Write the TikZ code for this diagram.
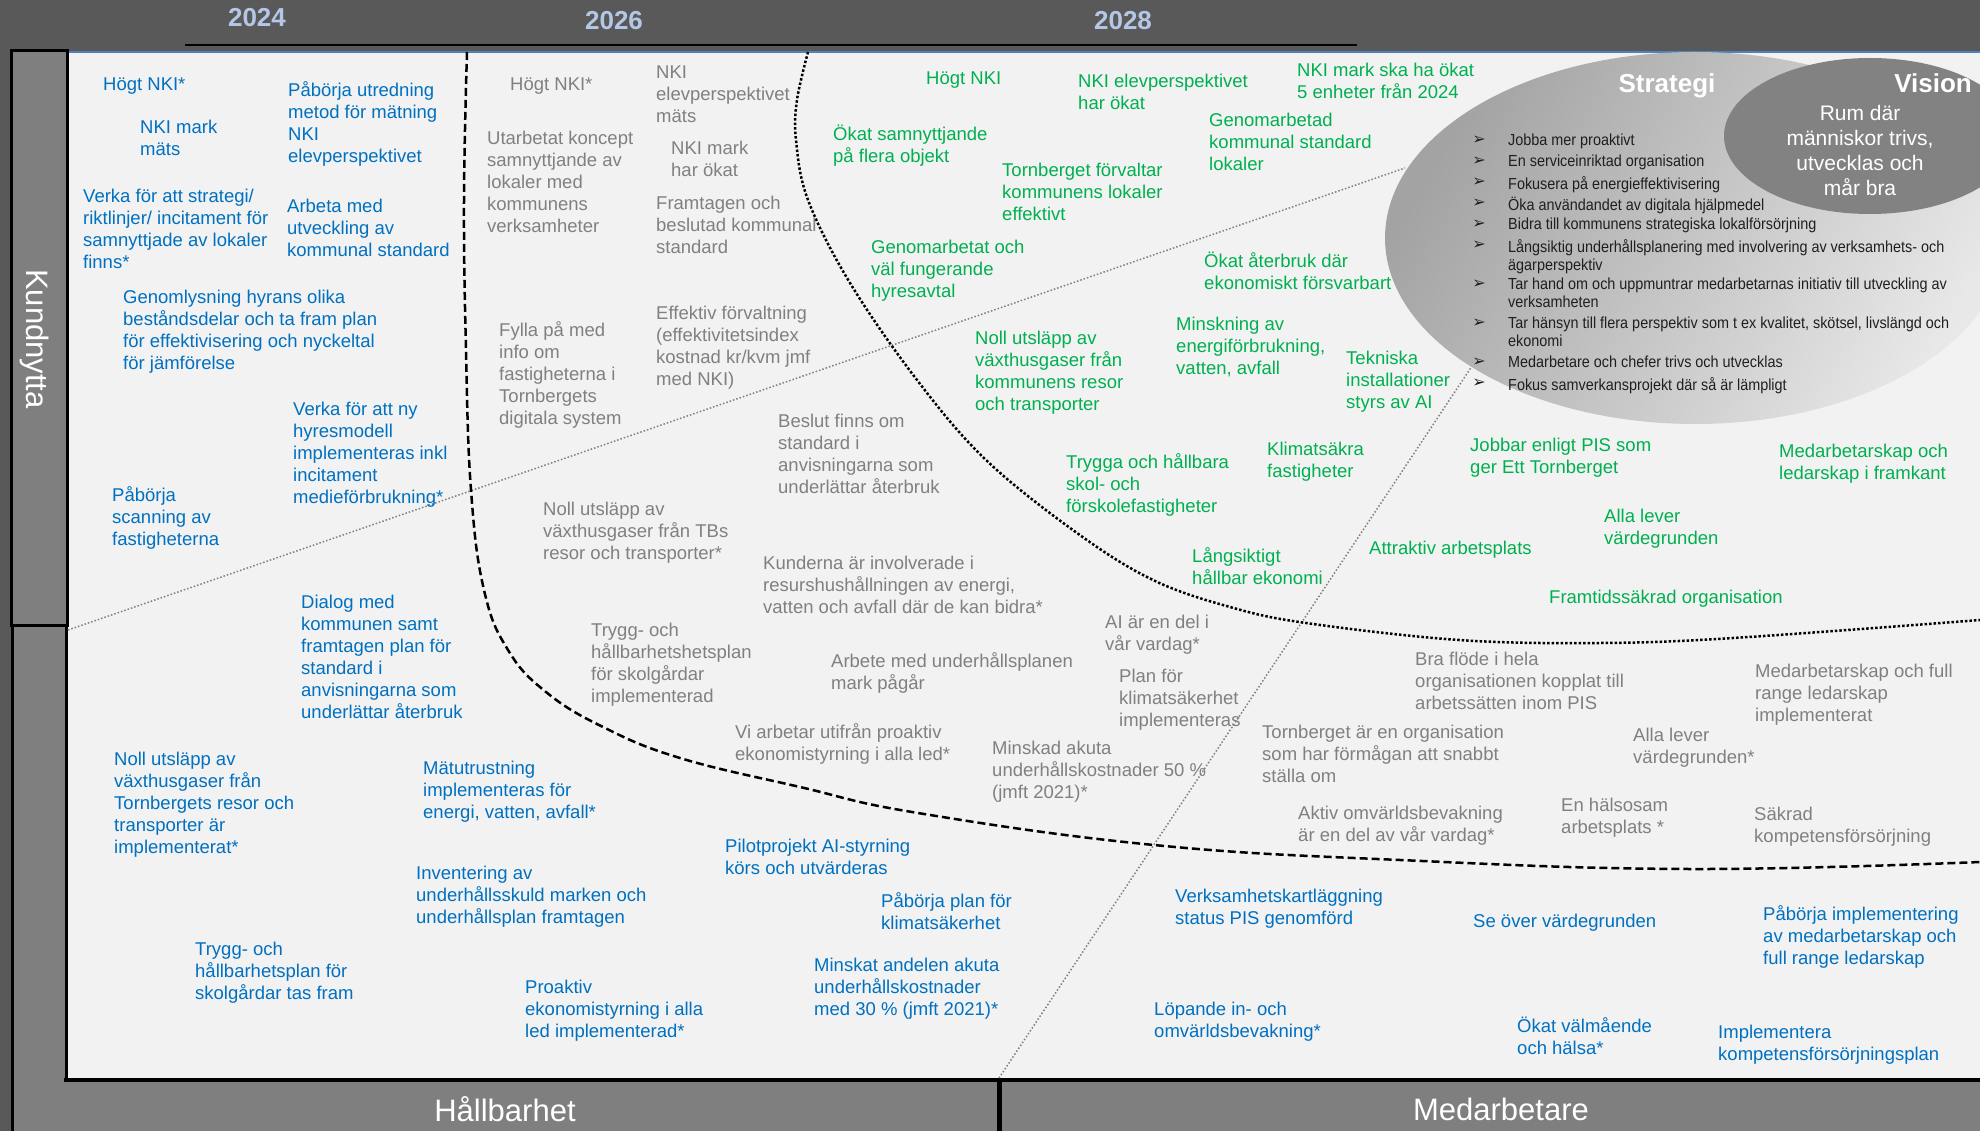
\documentclass[tikz,border=0pt]{standalone}
\usepackage{fontspec}
\setmainfont{Liberation Sans}
\newfontfamily\narrowfont[FakeStretch=0.9]{Liberation Sans}
\newfontfamily\dejavu{DejaVu Sans}
\usepackage{tikz}

\definecolor{bgdark}{HTML}{595959}
\definecolor{bargray}{HTML}{7F7F7F}
\definecolor{panelgray}{HTML}{F2F2F2}
\definecolor{rulerblue}{HTML}{4F81BD}
\definecolor{yearblue}{HTML}{B4C7E7}
\definecolor{tbblue}{HTML}{0070C0}
\definecolor{tbgray}{HTML}{808080}
\definecolor{tbgreen}{HTML}{00B050}
\definecolor{stratdark}{HTML}{A3A3A3}
\definecolor{stratlight}{HTML}{E8E8E8}
\definecolor{visiongray}{HTML}{828282}
\definecolor{stratink}{HTML}{1F1F1F}

\begin{document}
\begin{tikzpicture}[x=1pt, y=-1pt,
    entry/.style={anchor=north west, yshift=7pt, inner sep=0pt, align=left,
      font=\fontsize{18.5}{22}\selectfont},
    nearterm/.style={entry, text=tbblue},
    midterm/.style={entry, text=tbgray},
    longterm/.style={entry, text=tbgreen},
    strat/.style={anchor=north west, yshift=6pt, inner sep=0pt, align=left,
      text=stratink, font=\narrowfont\fontsize{16}{18}\selectfont},
    arrowmark/.style={inner sep=0pt, text=stratink, font=\dejavu\fontsize{16}{18}\selectfont},
    yearlabel/.style={text=yearblue, font=\bfseries\fontsize{26}{30}\selectfont},
    axislabel/.style={text=white, inner sep=0pt, font=\fontsize{31}{36}\selectfont},
    griddot/.style={tbgray, line width=1.5pt, dotted}]
    \useasboundingbox (0,0) rectangle (1980,1131);

    % Backdrop and working area
    \fill[bgdark] (0,0) rectangle (1980,1131);
    \fill[panelgray] (68,52) rectangle (1980,1080);
    \draw[rulerblue, line width=2pt] (68,52) -- (1980,52);
    \draw[line width=2pt] (185,45) -- (1357,45);

    % Side bar and bottom bars
    \fill[bargray] (12,625) rectangle (67,1131);
    \fill[bargray] (67,1080) rectangle (1980,1131);
    \draw[line width=3pt] (12,625) -- (12,1131);
    \draw[line width=3pt] (66,625) -- (66,1080);
    \draw[line width=4pt] (64,1080) -- (1980,1080);
    \draw[line width=5pt] (999,1080) -- (999,1131);
    \filldraw[fill=bargray, line width=3pt] (11,51) rectangle (67,625);

    % Years
    \node[yearlabel] (y24) at (257,18) {2024};
    \node[yearlabel] (y26) at (614,21) {2026};
    \node[yearlabel] (y28) at (1123,21) {2028};

    % Axis names
    \node[axislabel, rotate=-90] (kund) at (35,339) {Kundnytta};
    \node[axislabel, anchor=base] (hall) at (505,1121) {Hållbarhet};
    \node[axislabel, anchor=base] (medarb) at (1501,1120) {Medarbetare};

    % Perspective borders
    \draw[griddot] (68,630) -- (1405,168);
    \draw[griddot] (999,1078) -- (1478,357);

    % Time horizons
    \draw[line width=2.5pt, dash pattern=on 8pt off 4pt] plot[smooth, tension=0.7] coordinates
      {(467,52) (464,200) (466,350) (471,490) (484,590) (508,650) (546,692) (603,727) (680,758)
       (800,787) (918,813) (1154,845) (1400,860) (1690,869) (1980,862)};
    \draw[line width=2.5pt, dotted] plot[smooth, tension=0.6] coordinates
      {(808,52) (797,100) (796,140) (808,200) (850,283) (917,380) (986,460) (1077,533)
       (1153,580) (1230,607) (1306,623) (1459,640) (1600,643) (1733,638) (1980,620)};

    % Strategy and vision
    \shade[left color=stratdark, right color=stratlight, shading angle=60]
      (1695,238) ellipse [x radius=310pt, y radius=186pt];
    \fill[visiongray] (1870,136) ellipse [x radius=146pt, y radius=78pt];
    \node[text=white, anchor=base, font=\bfseries\fontsize{26}{30}\selectfont] (strategi) at (1667,93) {Strategi};
    \node[text=white, anchor=base, font=\bfseries\fontsize{26}{30}\selectfont] (vision) at (1933,93) {Vision};
    \node[text=white, anchor=north, inner sep=0pt, align=center, font=\fontsize{21}{25}\selectfont]
      (visiontext) at (1860,105) {Rum där\\människor trivs,\\utvecklas och\\mår bra};

    \foreach \y/\txt [count=\i] in {140/{Jobba mer proaktivt},
        161/{En serviceinriktad organisation},
        182/{Fokusera på energieffektivisering},
        203/{Öka användandet av digitala hjälpmedel},
        224/{Bidra till kommunens strategiska lokalförsörjning},
        245/{Långsiktig underhållsplanering med involvering av verksamhets- och\\ägarperspektiv},
        284/{Tar hand om och uppmuntrar medarbetarnas initiativ till utveckling av\\verksamheten},
        323/{Tar hänsyn till flera perspektiv som t ex kvalitet, skötsel, livslängd och\\ekonomi},
        362/{Medarbetare och chefer trivs och utvecklas},
        383/{Fokus samverkansprojekt där så är lämpligt}} {
      \node[arrowmark] (pil\i) at (1479,\y) {➢};
      \node[strat] (strat\i) at (1508,\y) {\txt};
    }

    % 2024
    \node[nearterm] (n1) at (103,85) {Högt NKI*};
    \node[nearterm] (n2) at (140,127) {NKI mark\\mäts};
    \node[nearterm] (n3) at (288,88) {Påbörja utredning\\metod för mätning\\NKI\\elevperspektivet};
    \node[nearterm] (n4) at (83,196) {Verka för att strategi/\\riktlinjer/ incitament för\\samnyttjade av lokaler\\finns*};
    \node[nearterm] (n5) at (287,206) {Arbeta med\\utveckling av\\kommunal standard};
    \node[nearterm] (n6) at (123,297) {Genomlysning hyrans olika\\beståndsdelar och ta fram plan\\för effektivisering och nyckeltal\\för jämförelse};
    \node[nearterm] (n7) at (293,409) {Verka för att ny\\hyresmodell\\implementeras inkl\\incitament\\medieförbrukning*};
    \node[nearterm] (n8) at (112,493) {Påbörja\\scanning av\\fastigheterna};
    \node[nearterm] (n9) at (301,602) {Dialog med\\kommunen samt\\framtagen plan för\\standard i\\anvisningarna som\\underlättar återbruk};
    \node[nearterm] (n10) at (114,759) {Noll utsläpp av\\växthusgaser från\\Tornbergets resor och\\transporter är\\implementerat*};
    \node[nearterm] (n11) at (423,768) {Mätutrustning\\implementeras för\\energi, vatten, avfall*};
    \node[nearterm] (n12) at (416,873) {Inventering av\\underhållsskuld marken och\\underhållsplan framtagen};
    \node[nearterm] (n13) at (195,949) {Trygg- och\\hållbarhetsplan för\\skolgårdar tas fram};
    \node[nearterm] (n14) at (525,987) {Proaktiv\\ekonomistyrning i alla\\led implementerad*};
    \node[nearterm] (n15) at (725,846) {Pilotprojekt AI-styrning\\körs och utvärderas};
    \node[nearterm] (n16) at (881,899) {Påbörja plan för\\klimatsäkerhet};
    \node[nearterm] (n17) at (814,965) {Minskat andelen akuta\\underhållskostnader\\med 30 \% (jmft 2021)*};
    \node[nearterm] (n18) at (1175,896) {Verksamhetskartläggning\\status PIS genomförd};
    \node[nearterm] (n19) at (1154,1009) {Löpande in- och\\omvärldsbevakning*};
    \node[nearterm] (n20) at (1473,921) {Se över värdegrunden};
    \node[nearterm] (n21) at (1763,912) {Påbörja implementering\\av medarbetarskap och\\full range ledarskap};
    \node[nearterm] (n22) at (1517,1024) {Ökat välmående\\och hälsa*};
    \node[nearterm] (n23) at (1718,1032) {Implementera\\kompetensförsörjningsplan};

    % 2026
    \node[midterm] (m1) at (510,85) {Högt NKI*};
    \node[midterm] (m2) at (656,73) {NKI\\elevperspektivet\\mäts};
    \node[midterm] (m3) at (487,138) {Utarbetat koncept\\samnyttjande av\\lokaler med\\kommunens\\verksamheter};
    \node[midterm] (m4) at (671,148) {NKI mark\\har ökat};
    \node[midterm] (m5) at (656,203) {Framtagen och\\beslutad kommunal\\standard};
    \node[midterm] (m6) at (499,328) {Fylla på med\\info om\\fastigheterna i\\Tornbergets\\digitala system};
    \node[midterm] (m7) at (656,313) {Effektiv förvaltning\\(effektivitetsindex\\kostnad kr/kvm jmf\\med NKI)};
    \node[midterm] (m8) at (778,421) {Beslut finns om\\standard i\\anvisningarna som\\underlättar återbruk};
    \node[midterm] (m9) at (543,509) {Noll utsläpp av\\växthusgaser från TBs\\resor och transporter*};
    \node[midterm] (m10) at (763,563) {Kunderna är involverade i\\resurshushållningen av energi,\\vatten och avfall där de kan bidra*};
    \node[midterm] (m11) at (591,630) {Trygg- och\\hållbarhetshetsplan\\för skolgårdar\\implementerad};
    \node[midterm] (m12) at (831,659) {Arbete med underhållsplanen\\mark pågår};
    \node[midterm] (m13) at (735,730) {Vi arbetar utifrån proaktiv\\ekonomistyrning i alla led*};
    \node[midterm] (m14) at (992,748) {Minskad akuta\\underhållskostnader 50 \%\\(jmft 2021)*};
    \node[midterm] (m15) at (1105,622) {AI är en del i\\vår vardag*};
    \node[midterm] (m16) at (1119,676) {Plan för\\klimatsäkerhet\\implementeras};
    \node[midterm] (m17) at (1415,659) {Bra flöde i hela\\organisationen kopplat till\\arbetssätten inom PIS};
    \node[midterm] (m18) at (1262,732) {Tornberget är en organisation\\som har förmågan att snabbt\\ställa om};
    \node[midterm] (m19) at (1298,813) {Aktiv omvärldsbevakning\\är en del av vår vardag*};
    \node[midterm] (m20) at (1633,735) {Alla lever\\värdegrunden*};
    \node[midterm] (m21) at (1561,805) {En hälsosam\\arbetsplats *};
    \node[midterm] (m22) at (1754,814) {Säkrad\\kompetensförsörjning};
    \node[midterm] (m23) at (1755,671) {Medarbetarskap och full\\range ledarskap\\implementerat};

    % 2028
    \node[longterm] (l1) at (926,79) {Högt NKI};
    \node[longterm] (l2) at (1078,81) {NKI elevperspektivet\\har ökat};
    \node[longterm] (l3) at (1297,70) {NKI mark ska ha ökat\\5 enheter från 2024};
    \node[longterm] (l4) at (833,132) {Ökat samnyttjande\\på flera objekt};
    \node[longterm] (l5) at (1209,120) {Genomarbetad\\kommunal standard\\lokaler};
    \node[longterm] (l6) at (1002,170) {Tornberget förvaltar\\kommunens lokaler\\effektivt};
    \node[longterm] (l7) at (871,247) {Genomarbetat och\\väl fungerande\\hyresavtal};
    \node[longterm] (l8) at (1204,259) {Ökat återbruk där\\ekonomiskt försvarbart};
    \node[longterm] (l9) at (975,338) {Noll utsläpp av\\växthusgaser från\\kommunens resor\\och transporter};
    \node[longterm] (l10) at (1176,324) {Minskning av\\energiförbrukning,\\vatten, avfall};
    \node[longterm] (l11) at (1346,358) {Tekniska\\installationer\\styrs av AI};
    \node[longterm] (l12) at (1066,460) {Trygga och hållbara\\skol- och\\förskolefastigheter};
    \node[longterm] (l13) at (1267,449) {Klimatsäkra\\fastigheter};
    \node[longterm] (l14) at (1192,554) {Långsiktigt\\hållbar ekonomi};
    \node[longterm] (l15) at (1369,548) {Attraktiv arbetsplats};
    \node[longterm] (l16) at (1470,445) {Jobbar enligt PIS som\\ger Ett Tornberget};
    \node[longterm] (l17) at (1779,451) {Medarbetarskap och\\ledarskap i framkant};
    \node[longterm] (l18) at (1604,516) {Alla lever\\värdegrunden};
    \node[longterm] (l19) at (1549,597) {Framtidssäkrad organisation};
\end{tikzpicture}
\end{document}
